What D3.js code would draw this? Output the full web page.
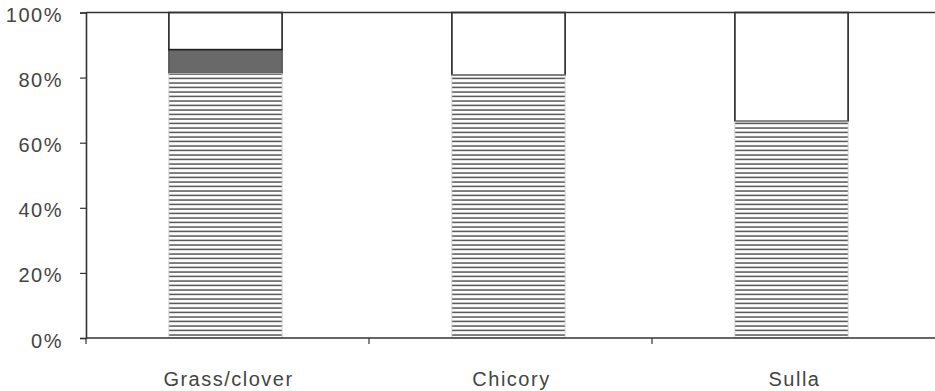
<!DOCTYPE html>
<html>
<head>
<meta charset="utf-8">
<script src="https://cdn.jsdelivr.net/npm/d3@7"></script>
<style>
body { margin: 0; background: #fff; }
text { font-family: "Liberation Sans", Arial, sans-serif; fill: #444; }
</style>
</head>
<body>
<svg width="935" height="391"></svg>
<script>
// values (percent of total)
var categories = ["Grass/clover", "Chicory", "Sulla"];
var hatched = [81.3, 80.8, 66.6];
var dark = [7.3, 0, 0];
var rest = [11.4, 19.2, 33.4];
var yTicks = [0, 20, 40, 60, 80, 100];

var svg = d3.select("svg");
var width = +svg.attr("width");
var margin = { top: 12.5, left: 86, bottom: 53 };
var y0 = 338;

var xScale = d3.scaleBand().domain(categories).range([margin.left, width]).padding(0);
var yScale = d3.scaleLinear().domain([0, 100]).range([y0, margin.top]);

// hatch pattern
var defs = svg.append("defs");
var pat = defs.append("pattern").attr("id", "hatch").attr("patternUnits", "userSpaceOnUse")
  .attr("width", 8).attr("height", 4.5);
pat.append("rect").attr("width", 8).attr("height", 4.5).attr("fill", "#fff");
pat.append("line").attr("x1", 0).attr("x2", 8).attr("y1", 2).attr("y2", 2)
  .attr("stroke", "#444").attr("stroke-width", 1.4);

var rows = categories.map(function (c, i) {
  return { cat: c, hatched: hatched[i], dark: dark[i], rest: rest[i] };
});
var stack = d3.stack().keys(["hatched", "dark", "rest"])(rows);

var fills = { hatched: "url(#hatch)", dark: "#696969", rest: "#fff" };
var strokes = { hatched: "none", dark: "#555", rest: "#222" };

var barW = xScale.bandwidth() * 0.4;
var shift = -2;

stack.forEach(function (layer) {
  svg.append("g").selectAll("rect").data(layer.filter(function (d) { return d[1] - d[0] > 0; }))
    .enter().append("rect")
    .attr("x", function (d) { return xScale(d.data.cat) + (xScale.bandwidth() - barW) / 2 + shift; })
    .attr("width", barW)
    .attr("y", function (d) { return yScale(d[1]); })
    .attr("height", function (d) { return yScale(d[0]) - yScale(d[1]); })
    .attr("fill", fills[layer.key])
    .attr("stroke", strokes[layer.key])
    .attr("stroke-width", 1.6);
});

// light edges on hatched part
svg.append("g").selectAll("rect").data(stack[0]).enter().append("rect")
  .attr("x", function (d) { return xScale(d.data.cat) + (xScale.bandwidth() - barW) / 2 + shift; })
  .attr("width", barW)
  .attr("y", function (d) { return yScale(d[1]); })
  .attr("height", function (d) { return yScale(d[0]) - yScale(d[1]); })
  .attr("fill", "none").attr("stroke", "#ccc").attr("stroke-width", 0.8);

// y axis
var yAxis = d3.axisLeft(yScale).tickValues(yTicks).tickSize(6).tickPadding(17)
  .tickFormat(function (d) { return d + "%"; });
var yAxisG = svg.append("g").attr("transform", "translate(" + margin.left + ",0)").call(yAxis);
yAxisG.select(".domain").attr("stroke", "#333").attr("stroke-width", 1.6);
yAxisG.selectAll(".tick line").attr("stroke", "#333").attr("stroke-width", 1.2);
yAxisG.selectAll(".tick text").attr("font-size", "20px").attr("dy", "0.45em")
  .style("letter-spacing", "1.5px").attr("fill", "#444");

// x axis
var xAxisG = svg.append("g").attr("transform", "translate(0," + y0 + ")");
xAxisG.append("line").attr("x1", margin.left).attr("x2", width).attr("y1", 0).attr("y2", 0)
  .attr("stroke", "#333").attr("stroke-width", 1.6);
var bounds = categories.map(function (c) { return xScale(c); });
xAxisG.selectAll(".xt").data(bounds).enter().append("line")
  .attr("x1", function (d) { return d; }).attr("x2", function (d) { return d; })
  .attr("y1", 0).attr("y2", 6).attr("stroke", "#333").attr("stroke-width", 1.2);
xAxisG.selectAll(".xl").data(categories).enter().append("text")
  .attr("x", function (d) { return xScale(d) + xScale.bandwidth() / 2 + 1; })
  .attr("y", 48).attr("text-anchor", "middle").attr("font-size", "20px")
  .style("letter-spacing", "1.5px").text(function (d) { return d; });

// top border
svg.append("line").attr("x1", margin.left).attr("x2", width)
  .attr("y1", margin.top).attr("y2", margin.top).attr("stroke", "#333").attr("stroke-width", 1.6);
</script>
</body>
</html>
